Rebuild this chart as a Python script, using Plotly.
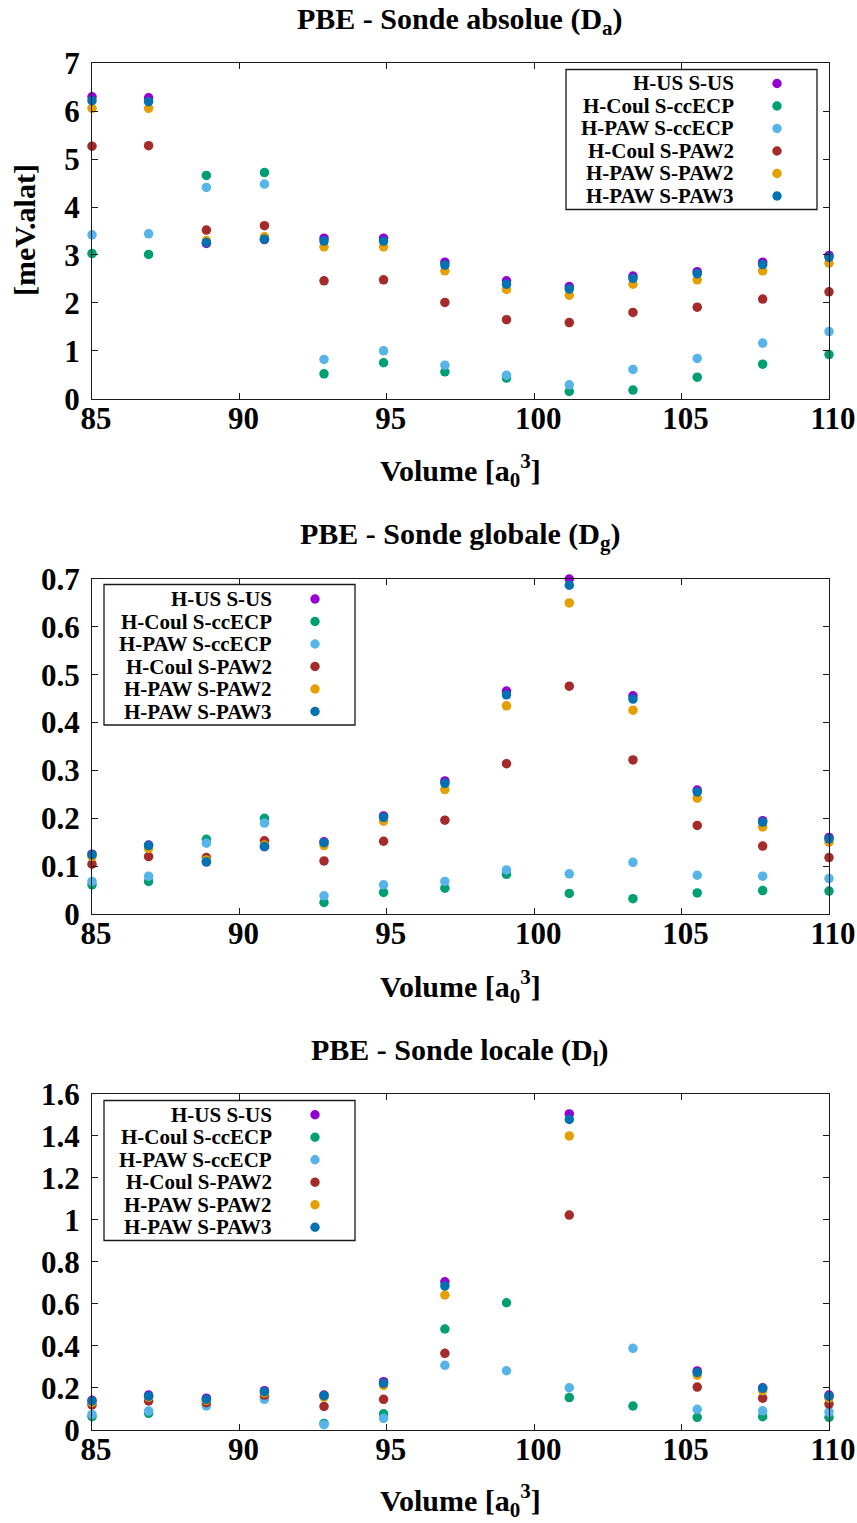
import plotly.graph_objects as go

# ---------------- data ----------------
volumes = [85.0, 86.92, 88.88, 90.85, 92.87, 94.89, 96.97, 99.06, 101.19, 103.35, 105.53, 107.75, 110.0]

series_names = ["H-US S-US", "H-Coul S-ccECP", "H-PAW S-ccECP", "H-Coul S-PAW2", "H-PAW S-PAW2", "H-PAW S-PAW3"]
series_colors = ["#9400d3", "#009e73", "#56b4e9", "#a52a2a", "#e69f00", "#0072b2"]

# Panel 1 : Sonde absolue (D_a)  [meV.alat]
da_us_us      = [6.30, 6.28, 3.24, 3.32, 3.35, 3.35, 2.85, 2.46, 2.34, 2.56, 2.65, 2.85, 2.99]
da_coul_ccecp = [3.03, 3.01, 4.66, 4.72, 0.52, 0.75, 0.56, 0.43, 0.15, 0.18, 0.45, 0.72, 0.92]
da_paw_ccecp  = [3.42, 3.44, 4.41, 4.48, 0.82, 1.00, 0.70, 0.49, 0.29, 0.61, 0.84, 1.16, 1.40]
da_coul_paw2  = [5.27, 5.28, 3.52, 3.61, 2.46, 2.48, 2.01, 1.65, 1.59, 1.80, 1.91, 2.08, 2.23]
da_paw_paw2   = [6.06, 6.06, 3.30, 3.38, 3.17, 3.17, 2.67, 2.28, 2.16, 2.39, 2.48, 2.67, 2.83]
da_paw_paw3   = [6.22, 6.20, 3.26, 3.33, 3.29, 3.29, 2.79, 2.39, 2.29, 2.51, 2.61, 2.80, 2.95]

# Panel 2 : Sonde globale (D_g)
dg_us_us      = [0.125, 0.144, 0.109, 0.141, 0.151, 0.205, 0.278, 0.466, 0.700, 0.456, 0.259, 0.195, 0.160]
dg_coul_ccecp = [0.061, 0.068, 0.156, 0.200, 0.024, 0.045, 0.054, 0.083, 0.043, 0.032, 0.044, 0.049, 0.048]
dg_paw_ccecp  = [0.068, 0.079, 0.148, 0.190, 0.038, 0.061, 0.068, 0.092, 0.084, 0.108, 0.081, 0.079, 0.074]
dg_coul_paw2  = [0.104, 0.120, 0.118, 0.153, 0.111, 0.152, 0.196, 0.314, 0.476, 0.322, 0.185, 0.142, 0.118]
dg_paw_paw2   = [0.120, 0.137, 0.113, 0.144, 0.143, 0.194, 0.260, 0.435, 0.650, 0.426, 0.242, 0.182, 0.150]
dg_paw_paw3   = [0.124, 0.143, 0.109, 0.141, 0.149, 0.202, 0.273, 0.458, 0.687, 0.449, 0.255, 0.192, 0.157]

# Panel 3 : Sonde locale (D_l)
dl_us_us      = [0.140, 0.165, 0.150, 0.186, 0.165, 0.229, 0.705, None, 1.505, None, 0.280, 0.200, 0.165]
dl_coul_ccecp = [0.062, 0.078, 0.120, 0.155, 0.030, 0.076, 0.480, 0.605, 0.153, 0.113, 0.059, 0.062, 0.059]
dl_paw_ccecp  = [0.073, 0.089, 0.113, 0.145, 0.024, 0.054, 0.307, 0.281, 0.200, 0.388, 0.097, 0.090, 0.084]
dl_coul_paw2  = [0.118, 0.137, 0.129, 0.165, 0.111, 0.145, 0.364, None, 1.023, None, 0.203, 0.150, 0.122]
dl_paw_paw2   = [0.130, 0.155, 0.140, 0.175, 0.155, 0.211, 0.642, None, 1.400, None, 0.260, 0.186, 0.150]
dl_paw_paw3   = [0.137, 0.160, 0.145, 0.181, 0.162, 0.221, 0.685, None, 1.479, None, 0.273, 0.197, 0.160]

panel_titles = ["PBE - Sonde absolue (D<sub>a</sub>)",
                "PBE - Sonde globale (D<sub>g</sub>)",
                "PBE - Sonde locale (D<sub>l</sub>)"]
x_title = "Volume [a<sub>0</sub><sup>3</sup>]"
y_title = "[meV.alat]"
panel_data = [
    [da_us_us, da_coul_ccecp, da_paw_ccecp, da_coul_paw2, da_paw_paw2, da_paw_paw3],
    [dg_us_us, dg_coul_ccecp, dg_paw_ccecp, dg_coul_paw2, dg_paw_paw2, dg_paw_paw3],
    [dl_us_us, dl_coul_ccecp, dl_paw_ccecp, dl_coul_paw2, dl_paw_paw2, dl_paw_paw3],
]
y_ranges = [[0, 7], [0, 0.7], [0, 1.6]]
y_dticks = [1, 0.1, 0.2]

# ---------------- layout geometry (pixels) ----------------
W, H = 857, 1523
ML, MR = 92, 28
PW = W - ML - MR
plot_tops = [63.3, 579.0, 1094.0]
plot_bots = [398.7, 914.0, 1429.7]
title_y = [21, 536, 1052]
xtitle_y = [470, 986, 1500]
legend_boxes = [  # x0, x1, y0, y1, text right edge, marker x, first row y
    (566, 817, 69.5, 209.5, 736, 777, 83.5),
    (104, 355, 584.5, 725, 274, 315, 599),
    (104, 355, 1100.5, 1240.5, 274, 315, 1114.7),
]
row_step = 22.5

def xp(px):
    return (px - ML) / PW

def yp(py):
    return 1 - py / H

FONT = "Liberation Serif"

fig = go.Figure()
layout_axes = {}
annotations = []
shapes = []

for p in range(3):
    xa = "x" if p == 0 else f"x{p+1}"
    ya = "y" if p == 0 else f"y{p+1}"
    for s in range(6):
        fig.add_trace(go.Scatter(
            x=volumes, y=panel_data[p][s], mode="markers",
            name=series_names[s], showlegend=False,
            marker=dict(color=series_colors[s], size=9.5, line=dict(width=0)),
            cliponaxis=False, xaxis=xa, yaxis=ya,
        ))
    ax_common = dict(showline=True, linecolor="#1a1a1a", linewidth=1.3, mirror="ticks",
                     ticks="inside", ticklen=6, tickwidth=1, tickcolor="#1a1a1a",
                     showgrid=False, zeroline=False, automargin=False,
                     tickfont=dict(family=FONT, size=31, color="black", weight="bold"))
    xkey = "xaxis" if p == 0 else f"xaxis{p+1}"
    ykey = "yaxis" if p == 0 else f"yaxis{p+1}"
    layout_axes[xkey] = dict(ax_common, range=[85, 110], dtick=5, tick0=85,
                             domain=[0, 1], anchor=ya, ticklabelstandoff=-8,
                             ticklabelshift=4)
    layout_axes[ykey] = dict(ax_common, range=y_ranges[p], dtick=y_dticks[p], tick0=0,
                             domain=[yp(plot_bots[p]), yp(plot_tops[p])], anchor=xa,
                             ticklabelstandoff=5)
    # titles
    annotations.append(dict(text=panel_titles[p], xref="paper", yref="paper",
                            x=xp(460), y=yp(title_y[p]), xanchor="center", yanchor="middle",
                            showarrow=False,
                            font=dict(family=FONT, size=30, color="black", weight="bold")))
    annotations.append(dict(text=x_title, xref="paper", yref="paper",
                            x=xp(460), y=yp(xtitle_y[p]), xanchor="center", yanchor="middle",
                            showarrow=False,
                            font=dict(family=FONT, size=30, color="black", weight="bold")))
    # legend
    bx0, bx1, by0, by1, tx, mx, ry = legend_boxes[p]
    shapes.append(dict(type="rect", xref="paper", yref="paper",
                       x0=xp(bx0), x1=xp(bx1), y0=yp(by1), y1=yp(by0),
                       line=dict(color="#1a1a1a", width=1.3), fillcolor="white", layer="below"))
    for s in range(6):
        yy = ry + s * row_step
        annotations.append(dict(text=series_names[s], xref="paper", yref="paper",
                                x=xp(tx), y=yp(yy), xanchor="right", yanchor="middle",
                                showarrow=False,
                                font=dict(family=FONT, size=21, color="black", weight="bold")))
        shapes.append(dict(type="circle", xref="paper", yref="paper",
                           xsizemode="pixel", ysizemode="pixel",
                           xanchor=xp(mx), yanchor=yp(yy),
                           x0=-4.7, x1=4.7, y0=-4.7, y1=4.7,
                           fillcolor=series_colors[s], line=dict(width=0)))

annotations.append(dict(text=y_title, xref="paper", yref="paper",
                        x=xp(24), y=yp(230), xanchor="center", yanchor="middle",
                        textangle=-90, showarrow=False,
                        font=dict(family=FONT, size=30, color="black", weight="bold")))

fig.update_layout(
    width=W, height=H,
    margin=dict(l=ML, r=MR, t=0, b=0, pad=0, autoexpand=False),
    paper_bgcolor="white", plot_bgcolor="white",
    showlegend=False,
    annotations=annotations, shapes=shapes,
    **layout_axes,
)

fig.write_html("out.html", config={"displayModeBar": False},
               post_script="document.body.style.margin='0';document.body.style.overflow='hidden';")
